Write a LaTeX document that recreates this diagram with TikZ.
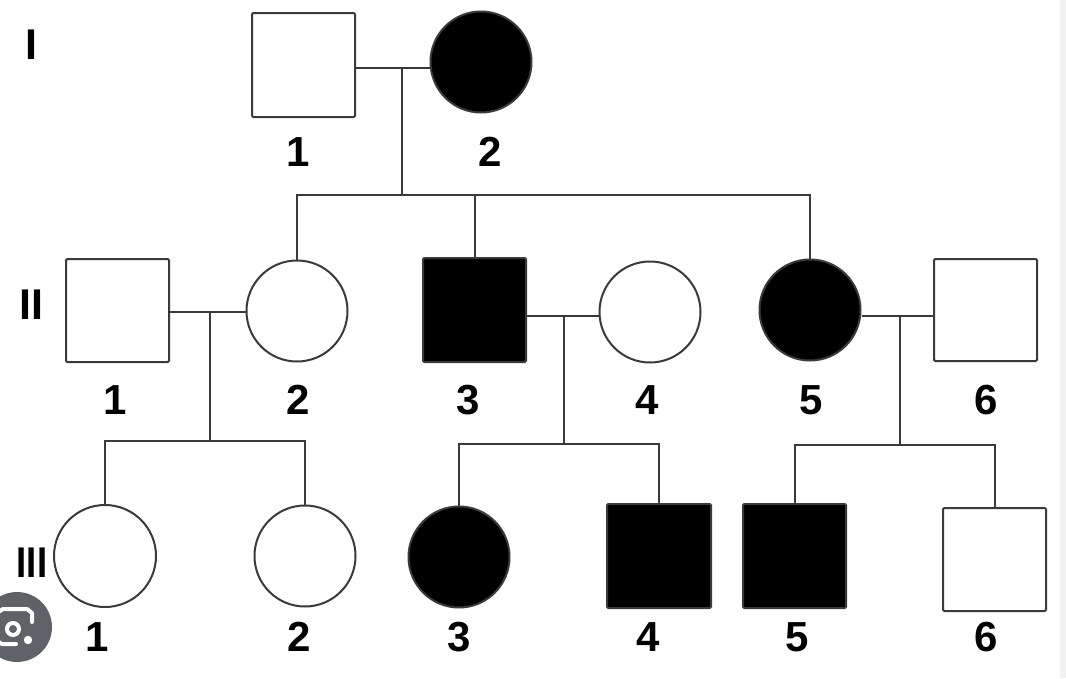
\documentclass[tikz,border=0pt]{standalone}
\usepackage{fontspec}
\setmainfont{Liberation Sans}
\definecolor{ln}{HTML}{3A3A3A}
\definecolor{lens}{HTML}{5F6368}
\definecolor{strip}{HTML}{F1F1F4}
\tikzset{
  male/.style={draw=ln, line width=2pt, rectangle, rounded corners=1.2pt, minimum width=103pt, minimum height=103pt, inner sep=0pt, fill=white},
  female/.style={draw=ln, line width=2pt, circle, minimum size=101pt, inner sep=0pt, fill=white},
  aff/.style={fill=black},
  lbl/.style={font=\fontsize{42}{42}\selectfont\bfseries, inner sep=0pt},
  gen/.style={font=\fontsize{43}{43}\selectfont\bfseries, inner sep=0pt},
  link/.style={draw=ln, line width=2pt}
}
\begin{document}
\begin{tikzpicture}[x=1pt,y=-1pt]
\useasboundingbox (0,0) rectangle (1066,678);
\fill[white] (0,0) rectangle (1066,678);
\fill[strip] (1060,0) rectangle (1066,678);

% generation labels
\node[gen] (gI) at (31,45) {I};
\node[gen] (gII) at (31,305) {II};
\node[gen, xscale=0.85] (gIII) at (32,563) {III};

% generation I
\node[male, minimum height=104pt] (I1) at (303.5,65) {};
\node[female, aff] (I2) at (481,62) {};
\node[lbl] (lI1) at (298,152) {1};
\node[lbl] (lI2) at (490,152) {2};

% generation II
\node[male] (II1) at (117.5,310.5) {};
\node[female] (II2) at (297,311) {};
\node[male, aff, minimum height=104pt] (II3) at (474.5,310) {};
\node[female] (II4) at (650,312) {};
\node[female, aff] (II5) at (810,310) {};
\node[male, minimum height=102pt] (II6) at (985.5,310) {};
\node[lbl] (lII1) at (115,400) {1};
\node[lbl] (lII2) at (298,400) {2};
\node[lbl] (lII3) at (468,400) {3};
\node[lbl] (lII4) at (647,400) {4};
\node[lbl] (lII5) at (811,400) {5};
\node[lbl] (lII6) at (986,400) {6};

% generation III
\node[female, minimum size=102pt] (III1) at (105,556) {};
\node[female] (III2) at (305,556) {};
\node[female, aff] (III3) at (459,557) {};
\node[male, aff, minimum width=104pt, minimum height=104pt] (III4) at (659,556) {};
\node[male, aff, minimum height=104pt] (III5) at (794.5,556) {};
\node[male] (III6) at (994.5,559.5) {};
\node[lbl] (lIII1) at (97,637) {1};
\node[lbl] (lIII2) at (299,637) {2};
\node[lbl] (lIII3) at (459,637) {3};
\node[lbl] (lIII4) at (648,637) {4};
\node[lbl] (lIII5) at (797,637) {5};
\node[lbl] (lIII6) at (986,637) {6};

% coordinates for mating and sibship lines
\coordinate (m1) at (402,68);
\coordinate (s1) at (402,195);
\coordinate (m2) at (210,312);
\coordinate (s2) at (210,441);
\coordinate (m3) at (564,316);
\coordinate (s3) at (564,444);
\coordinate (m4) at (900,316);
\coordinate (s4) at (900,445);

% family I
\draw[link] (I1.east |- m1) -- (I2.west |- m1);
\draw[link] (m1) -- (s1);
\draw[link] (II2.north) |- (s1) -| (II5.north);
\draw[link] (II3.north) -- (II3.north |- s1);

% family II-1 x II-2
\draw[link] (II1.east |- m2) -- (II2.west |- m2);
\draw[link] (m2) -- (s2);
\draw[link] (III1.north) |- (s2) -| (III2.north);

% family II-3 x II-4
\draw[link] (II3.east |- m3) -- (II4.west |- m3);
\draw[link] (m3) -- (s3);
\draw[link] (III3.north) |- (s3) -| (III4.north);

% family II-5 x II-6
\draw[link] (II5.east |- m4) -- (II6.west |- m4);
\draw[link] (m4) -- (s4);
\draw[link] (III5.north) |- (s4) -| (III6.north);

% lens overlay icon
\fill[lens] (17,627) circle (35);
\draw[white, line width=4pt, line cap=round, line join=round] (-3,621) -- (-3,613) -- (3,609) -- (27,609) -- (32,613) -- (32,622);
\draw[white, line width=4pt] (13,629) circle (6);
\draw[white, line width=4pt, line cap=round, line join=round] (-3,636) -- (-3,641) -- (2,644) -- (16,644);
\fill[white] (28,640) circle (4.2);
\end{tikzpicture}
\end{document}
